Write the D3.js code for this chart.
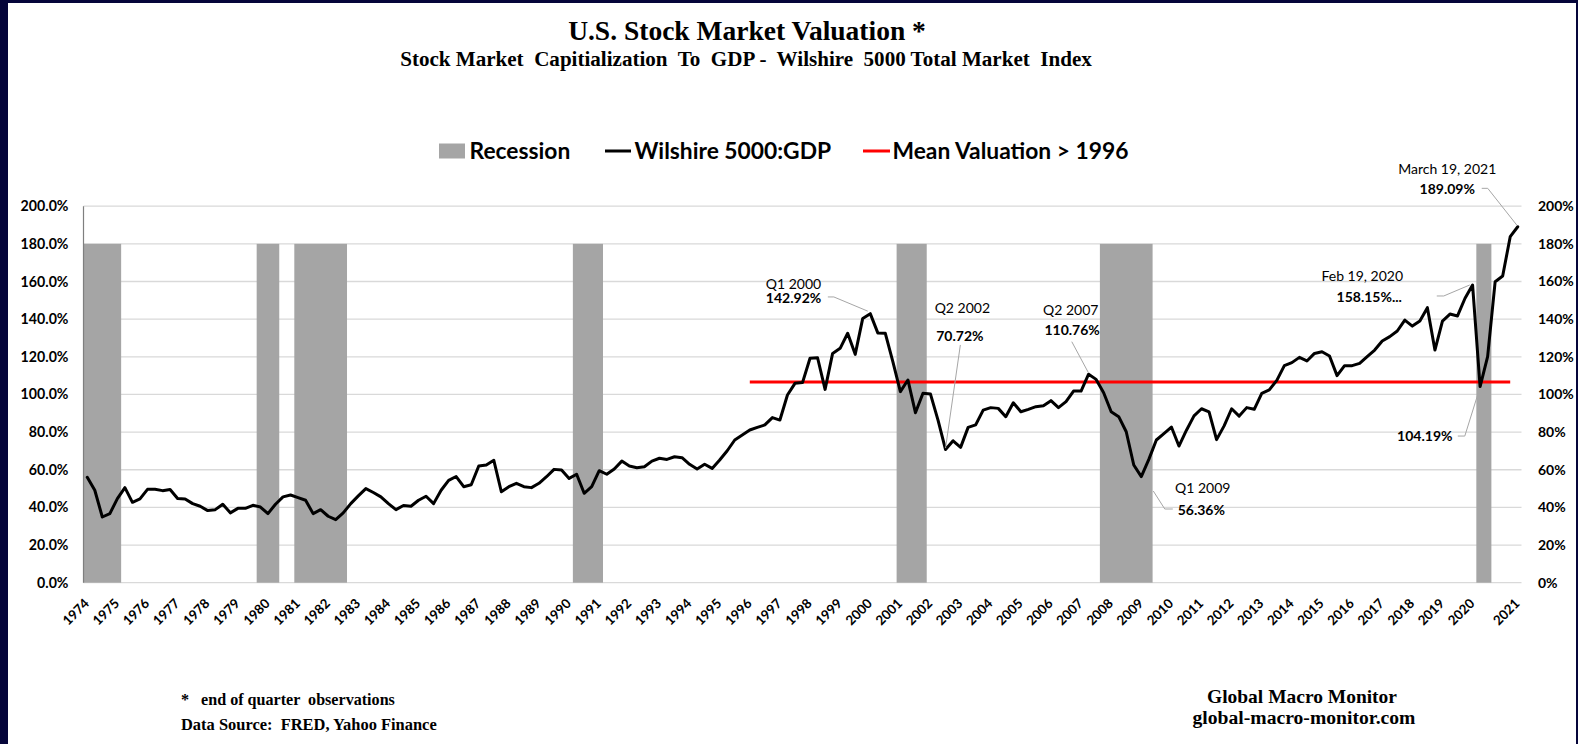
<!DOCTYPE html>
<html>
<head>
<meta charset="utf-8">
<script src="https://cdn.jsdelivr.net/npm/d3@7"></script>
<style>
html, body { margin: 0; padding: 0; background: #05053a; }
svg { display: block; }
text { white-space: pre; }
</style>
</head>
<body>
<svg id="chart" width="1578" height="744"></svg>
<script>
// ---------------- DATA ----------------
const firstYear = 1974, lastQuarterYear = 2019;
const quarterNames = ["Q1", "Q2", "Q3", "Q4"];
const extraPeriods = ["2020-02-19", "2020Q1", "2020Q2", "2020Q3", "2020Q4", "2021-02", "2021-03-19"];

// Wilshire 5000 : GDP (%), one value per period
const wilshireGDP = [
  56.0, 49.1, 34.9, 36.7, 44.7, 50.5, 42.7, 44.5, 49.6, 49.6, 48.9, 49.5,   // 1974-1976
  44.7, 44.5, 42.0, 40.6, 38.3, 38.8, 41.7, 37.1, 39.5, 39.5, 41.1, 40.2,   // 1977-1979
  36.7, 41.7, 45.6, 46.6, 45.2, 43.8, 36.7, 38.8, 35.3, 33.5, 37.1, 42.0,   // 1980-1982
  46.1, 50.0, 47.9, 45.6, 42.0, 38.8, 41.0, 40.6, 43.8, 45.9, 42.0, 49.1,   // 1983-1985
  54.4, 56.4, 51.0, 52.0, 62.0, 62.5, 65.0, 48.3, 51.0, 52.8, 51.0, 50.5,   // 1986-1988
  52.8, 56.3, 60.2, 59.9, 55.4, 57.6, 47.5, 51.0, 59.5, 57.6, 60.4, 64.6,   // 1989-1991
  62.0, 61.1, 61.6, 64.6, 66.1, 65.5, 66.9, 66.4, 62.9, 60.4, 62.9, 60.7,   // 1992-1994
  65.2, 70.1, 75.8, 78.4, 81.1, 82.5, 83.8, 87.7, 86.4, 99.7, 105.9, 106.3, // 1995-1997
  119.2, 119.5, 102.7, 121.8, 124.5, 132.5, 121.3, 140.4,                   // 1998-1999
  142.92, 132.7, 132.5, 117.4, 101.5, 107.7, 90.3, 100.6,                   // 2000-2001
  100.2, 86.4, 70.72, 75.4, 71.9, 82.5, 83.8, 91.7,                         // 2002-2003
  93.0, 92.6, 88.2, 95.6, 90.8, 92.1, 93.5, 94.0,                           // 2004-2005
  96.7, 93.0, 96.2, 101.8, 101.8, 110.76, 108.0, 100.9,                     // 2006-2007
  90.8, 88.2, 80.2, 62.5, 56.36, 65.5, 75.8, 79.2,                          // 2008-2009
  82.7, 72.6, 81.0, 88.6, 92.4, 90.8, 76.0, 83.3,                           // 2010-2011
  92.4, 88.5, 93.0, 92.1, 100.6, 102.4, 107.5, 115.3,                       // 2012-2013
  116.9, 119.7, 117.8, 121.8, 122.7, 120.4, 110.0, 115.3,                   // 2014-2015
  115.3, 116.5, 120.1, 123.6, 128.4, 130.7, 133.7, 139.5,                   // 2016-2017
  136.3, 139.0, 146.1, 123.6, 139.0, 142.7, 141.7, 151.1,                   // 2018-2019
  158.15, 104.19, 120.1, 159.9, 162.9, 183.8, 189.09                        // 2020-2021
];

const yearLabels = ["1974","1975","1976","1977","1978","1979","1980","1981","1982","1983",
  "1984","1985","1986","1987","1988","1989","1990","1991","1992","1993","1994","1995",
  "1996","1997","1998","1999","2000","2001","2002","2003","2004","2005","2006","2007",
  "2008","2009","2010","2011","2012","2013","2014","2015","2016","2017","2018","2019",
  "2020","2021"];

const recessionStarts = ["1974Q1", "1979Q4", "1981Q1", "1990Q2", "2001Q1", "2007Q4", "2020Q1"];
const recessionEnds   = ["1975Q1", "1980Q2", "1982Q3", "1991Q1", "2001Q4", "2009Q2", "2020Q2"];
const recessionLevel = 180;

const meanValuation = 106.6;
const meanStart = "1996Q1", meanEnd = "2021-02";

const leftTicks = [0, 20, 40, 60, 80, 100, 120, 140, 160, 180, 200];

const annPeriods = ["2000Q1", "2002Q3", "2007Q2", "2009Q1", "2020-02-19", "2021-03-19", "2020Q1"];
const annTitles  = ["Q1 2000", "Q2 2002", "Q2 2007", "Q1 2009", "Feb 19, 2020", "March 19, 2021", ""];
const annValues  = ["142.92%", "70.72%", "110.76%", "56.36%", "158.15%...", "189.09%", "104.19%"];

// ---------------- LAYOUT ----------------
const W = 1578, H = 744;
const plot = { left: 83.5, right: 1521.5, top: 206.2, bottom: 582.7 };
const navy = "#05053a";
const sans = "Lato, 'Open Sans', sans-serif";
const serif = "'Liberation Serif', 'Times New Roman', serif";

// annotation offsets relative to the data point
const annLayout = [
  { t: [-104.4, -24.7], v: [-104.4, -10.7], anchor: "start", lead: [[-42.4, -16.7], [-36.4, -16.7], [-2.5, -2.5]] },
  { t: [16.8, -136.6], v: [14.3, -108.6], anchor: "middle", lead: [[14.8, -104.6], [0, -1.5]] },
  { t: [-17.8, -59.2], v: [-16.5, -39.2], anchor: "middle", lead: [[-16.8, -32.5], [-0.3, -1.7]] },
  { t: [61.5, 16.4], v: [60, 38.4], anchor: "middle", lead: [[12, 14.4], [23.5, 32.4], [31.5, 32.4]] },
  { t: [-110.3, -3.5], v: [-103.3, 17], anchor: "middle", lead: [[-35.8, 11], [-28.8, 11], [-2.8, 0]] },
  { t: [-70.5, -52.7], v: [-70.5, -32.7], anchor: "middle", lead: [[-36, -38.4], [-30, -38.4], [-1, -1.7]] },
  { t: [0, 0], v: [-55.3, 54.5], anchor: "middle", lead: [[-22.3, 49.5], [-15.3, 49.5], [-0.3, 1.5]] }
];

// ---------------- BUILD ----------------
const periods = d3.range(firstYear, lastQuarterYear + 1)
  .flatMap(y => quarterNames.map(q => y + q))
  .concat(extraPeriods);

const tickPeriods = yearLabels.map(y => y === "2020" ? "2020-02-19" : (y === "2021" ? "2021-03-19" : y + "Q1"));

const svg = d3.select("#chart");

svg.append("rect").attr("x", 0).attr("y", 0).attr("width", W).attr("height", H).attr("fill", navy);
svg.append("rect").attr("x", 8).attr("y", 3).attr("width", 1568).attr("height", H - 3).attr("fill", "#ffffff");

const x = d3.scaleBand().domain(periods).range([plot.left, plot.right]).paddingInner(0).paddingOuter(0);
const bw = x.bandwidth();
const cx = p => x(p) + bw / 2;
const y = d3.scaleLinear().domain([0, 200]).range([plot.bottom, plot.top]);

// gridlines
svg.append("g").selectAll("line").data(leftTicks).join("line")
  .attr("x1", plot.left).attr("x2", plot.right)
  .attr("y1", d => y(d)).attr("y2", d => y(d))
  .attr("stroke", "#d9d9d9").attr("stroke-width", 1.3);

// recession bars
svg.append("g").selectAll("rect").data(recessionStarts).join("rect")
  .attr("x", (d) => x(d))
  .attr("width", (d, i) => x(recessionEnds[i]) + bw - x(d))
  .attr("y", y(recessionLevel))
  .attr("height", y(0) - y(recessionLevel))
  .attr("fill", "#a5a5a5");

// left axis line
svg.append("line").attr("x1", plot.left).attr("x2", plot.left)
  .attr("y1", y(200)).attr("y2", y(0)).attr("stroke", "#7f7f7f").attr("stroke-width", 1.2);

// left axis labels
const yAxisL = svg.append("g").attr("transform", `translate(${plot.left},0)`)
  .call(d3.axisLeft(y).tickValues(leftTicks).tickFormat(d => d.toFixed(1) + "%").tickSize(0).tickPadding(15));
yAxisL.select(".domain").remove();
yAxisL.selectAll("text").attr("font-family", sans).attr("font-weight", "bold").attr("font-size", 14.2).attr("fill", "#000");

// right axis labels
const yAxisR = svg.append("g").attr("transform", `translate(${plot.right},0)`)
  .call(d3.axisRight(y).tickValues(leftTicks).tickFormat(d => d + "%").tickSize(0).tickPadding(16.5));
yAxisR.select(".domain").remove();
yAxisR.selectAll("text").attr("font-family", sans).attr("font-weight", "bold").attr("font-size", 14).attr("fill", "#000");

// bottom axis
const xAxis = svg.append("g").attr("transform", `translate(0,${plot.bottom})`)
  .call(d3.axisBottom(x).tickValues(tickPeriods).tickFormat((d, i) => yearLabels[i]).tickSize(0));
xAxis.select(".domain").remove();
xAxis.selectAll("text")
  .attr("y", 0).attr("dy", "0.35em")
  .attr("transform", "translate(-0.5,18.3) rotate(-45)")
  .style("text-anchor", "end")
  .attr("font-family", sans).attr("font-weight", "bold").attr("font-size", 13.3).attr("fill", "#000");

// mean valuation line
const meanPeriods = periods.slice(periods.indexOf(meanStart), periods.indexOf(meanEnd) + 1);
svg.append("path")
  .datum([meanPeriods[0], meanPeriods[meanPeriods.length - 1]])
  .attr("d", d3.line().x(p => cx(p)).y(() => y(meanValuation)))
  .attr("fill", "none").attr("stroke", "#ff0000").attr("stroke-width", 3);

// Wilshire line
svg.append("path")
  .datum(wilshireGDP.map((v, i) => [periods[i], v]))
  .attr("d", d3.line().x(d => cx(d[0])).y(d => y(d[1])))
  .attr("fill", "none").attr("stroke", "#000").attr("stroke-width", 3)
  .attr("stroke-linejoin", "round").attr("stroke-linecap", "round");

// annotations
annPeriods.forEach((p, i) => {
  const idx = periods.indexOf(p);
  const px = cx(p), py = y(wilshireGDP[idx]);
  const L = annLayout[i];
  const pts = L.lead.map(o => [px + o[0], py + o[1]]);
  svg.append("path").attr("d", d3.line()(pts)).attr("fill", "none")
    .attr("stroke", "#a6a6a6").attr("stroke-width", 1);
  if (annTitles[i]) {
    svg.append("text").attr("x", px + L.t[0]).attr("y", py + L.t[1])
      .attr("text-anchor", L.anchor).attr("font-family", sans).attr("font-size", 14)
      .attr("fill", "#000").text(annTitles[i]);
  }
  svg.append("text").attr("x", px + L.v[0]).attr("y", py + L.v[1])
    .attr("text-anchor", L.anchor).attr("font-family", sans).attr("font-weight", "bold").attr("font-size", 14)
    .attr("fill", "#000").text(annValues[i]);
});

// helper: fit text to target width
function fit(sel, target) {
  const w = sel.node().getComputedTextLength();
  const fs = parseFloat(sel.attr("font-size"));
  sel.attr("font-size", fs * target / w);
}

// titles
const t1 = svg.append("text").attr("x", 747).attr("y", 39.5).attr("text-anchor", "middle")
  .attr("font-family", serif).attr("font-weight", "bold").attr("font-size", 24).attr("fill", "#000")
  .text("U.S. Stock Market Valuation *");
fit(t1, 358);
const t2 = svg.append("text").attr("x", 746).attr("y", 66).attr("text-anchor", "middle")
  .attr("font-family", serif).attr("font-weight", "bold").attr("font-size", 18).attr("fill", "#000")
  .text("Stock Market  Capitialization  To  GDP -  Wilshire  5000 Total Market  Index");
fit(t2, 692);

// legend
const legY = 151;
svg.append("rect").attr("x", 439).attr("y", legY - 7.5).attr("width", 26).attr("height", 15).attr("fill", "#a5a5a5");
svg.append("line").attr("x1", 605).attr("x2", 631).attr("y1", legY).attr("y2", legY).attr("stroke", "#000").attr("stroke-width", 3);
svg.append("line").attr("x1", 863).attr("x2", 890).attr("y1", legY).attr("y2", legY).attr("stroke", "#ff0000").attr("stroke-width", 3);
const legTexts = [["Recession", 469.5], ["Wilshire 5000:GDP", 634.5], ["Mean Valuation > 1996", 892.5]];
const legSel = legTexts.map(d => svg.append("text").attr("x", d[1]).attr("y", legY).attr("dy", "0.35em")
  .attr("font-family", sans).attr("font-weight", "bold").attr("font-size", 20).attr("fill", "#000").text(d[0]));
{
  const w = legSel[2].node().getComputedTextLength();
  const fs = 20 * 236 / w;
  legSel.forEach(s => s.attr("font-size", fs));
}

// footer
const f1 = svg.append("text").attr("x", 181).attr("y", 705)
  .attr("font-family", serif).attr("font-weight", "bold").attr("font-size", 14).attr("fill", "#000")
  .text("*   end of quarter  observations");
fit(f1, 214);
const f2 = svg.append("text").attr("x", 181).attr("y", 730)
  .attr("font-family", serif).attr("font-weight", "bold").attr("font-size", 14).attr("fill", "#000")
  .text("Data Source:  FRED, Yahoo Finance");
fit(f2, 256);
const f3 = svg.append("text").attr("x", 1302).attr("y", 703).attr("text-anchor", "middle")
  .attr("font-family", serif).attr("font-weight", "bold").attr("font-size", 18).attr("fill", "#000")
  .text("Global Macro Monitor");
fit(f3, 190);
const f4 = svg.append("text").attr("x", 1304).attr("y", 724).attr("text-anchor", "middle")
  .attr("font-family", serif).attr("font-weight", "bold").attr("font-size", 18).attr("fill", "#000")
  .text("global-macro-monitor.com");
fit(f4, 223);
</script>
</body>
</html>
